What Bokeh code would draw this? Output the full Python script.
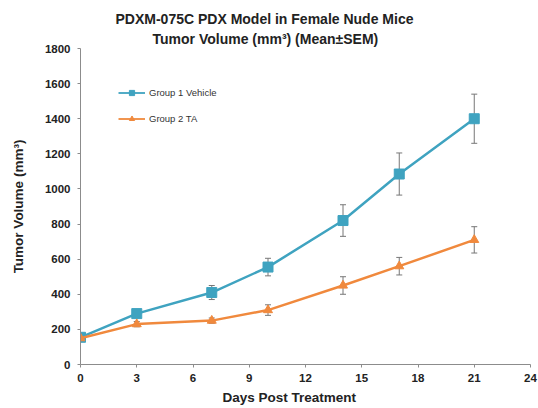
from bokeh.plotting import figure
from bokeh.models import Range1d, Whisker, TeeHead, ColumnDataSource, Legend, LegendItem, Title, FixedTicker
from bokeh.embed import file_html
from bokeh.resources import INLINE

days = [0, 3, 7, 10, 14, 17, 21]
g1_mean = [155, 290, 410, 555, 820, 1085, 1400]
g1_sem = [10, 15, 40, 50, 90, 120, 140]
g2_mean = [150, 230, 250, 310, 450, 560, 710]
g2_sem = [10, 15, 15, 30, 50, 50, 75]
x_ticks = [0, 3, 6, 9, 12, 15, 18, 21, 24]
y_ticks = [0, 200, 400, 600, 800, 1000, 1200, 1400, 1600, 1800]
title1 = "PDXM-075C PDX Model in Female Nude Mice"
title2 = "Tumor Volume (mm³) (Mean±SEM)"
x_label = "Days Post Treatment"
y_label = "Tumor Volume (mm³)"
name1 = "Group 1 Vehicle"
name2 = "Group 2 TA"

BLUE = "#3fa3c0"
ORANGE = "#f0893d"
GRAY = "#8c8c8c"
FONT = "Liberation Sans"

p = figure(width=538, height=408, output_backend="svg", toolbar_location=None,
           x_range=Range1d(0, 24), y_range=Range1d(0, 1800),
           min_border_left=80, min_border_right=8, min_border_top=48, min_border_bottom=44)
p.outline_line_color = None
p.xgrid.visible = False
p.ygrid.visible = False
p.background_fill_color = "white"
p.border_fill_color = "white"

for ax in (p.xaxis[0], p.yaxis[0]):
    ax.axis_line_color = GRAY
    ax.major_tick_line_color = GRAY
    ax.minor_tick_line_color = None
    ax.major_tick_out = 3
    ax.major_tick_in = 0
    ax.major_label_text_font = FONT
    ax.major_label_text_font_style = "bold"
    ax.major_label_text_font_size = "11.5px"
    ax.major_label_text_color = "#222222"

p.xaxis[0].ticker = FixedTicker(ticks=x_ticks)
p.yaxis[0].ticker = FixedTicker(ticks=y_ticks)
p.xaxis[0].major_label_standoff = 6
p.yaxis[0].major_label_standoff = 7
p.yaxis[0].axis_label = y_label
p.yaxis[0].axis_label_text_font = FONT
p.yaxis[0].axis_label_text_font_style = "bold"
p.yaxis[0].axis_label_text_font_size = "13.5px"
p.yaxis[0].axis_label_text_color = "#222222"
p.yaxis[0].axis_label_standoff = 16

s1 = ColumnDataSource(dict(x=days, y=g1_mean,
                           lo=[m - e for m, e in zip(g1_mean, g1_sem)],
                           hi=[m + e for m, e in zip(g1_mean, g1_sem)]))
s2 = ColumnDataSource(dict(x=days, y=g2_mean,
                           lo=[m - e for m, e in zip(g2_mean, g2_sem)],
                           hi=[m + e for m, e in zip(g2_mean, g2_sem)]))

for s in (s1, s2):
    w = Whisker(source=s, base="x", upper="hi", lower="lo", line_color="#777777", line_width=1,
                upper_head=TeeHead(size=6, line_color="#777777", line_width=1),
                lower_head=TeeHead(size=6, line_color="#777777", line_width=1))
    p.add_layout(w)

l1 = p.line("x", "y", source=s1, line_color=BLUE, line_width=2.5)
m1 = p.scatter("x", "y", source=s1, marker="square", size=10, fill_color=BLUE, line_color=BLUE)
l2 = p.line("x", "y", source=s2, line_color=ORANGE, line_width=2.5)
m2 = p.scatter("x", "y", source=s2, marker="triangle", size=9, fill_color=ORANGE, line_color=ORANGE)

# thin legend-only glyphs
ll1 = p.line([0, 1], [0, 0], line_color=BLUE, line_width=1.8, visible=False)
lm1 = p.scatter([0], [0], marker="square", fill_color=BLUE, line_color=BLUE, visible=False)
ll2 = p.line([0, 1], [0, 0], line_color=ORANGE, line_width=1.8, visible=False)
lm2 = p.scatter([0], [0], marker="triangle", fill_color=ORANGE, line_color=ORANGE, visible=False)

legend = Legend(items=[LegendItem(label=name1, renderers=[ll1, lm1]),
                       LegendItem(label=name2, renderers=[ll2, lm2])],
                location=(38, 236))
legend.border_line_color = None
legend.background_fill_alpha = 0
legend.label_text_font = FONT
legend.label_text_font_size = "9.5px"
legend.label_text_color = "#333333"
legend.glyph_width = 27
legend.glyph_height = 13
legend.label_height = 20
legend.spacing = 6
legend.padding = 4
legend.margin = 0
legend.label_standoff = 4
p.add_layout(legend, "center")

t2 = Title(text=title2, align="left", offset=72, text_font=FONT, text_font_style="bold",
           text_font_size="14px", text_color="#222222", standoff=4)
t1 = Title(text=title1, align="left", offset=35, text_font=FONT, text_font_style="bold",
           text_font_size="14px", text_color="#222222", standoff=0)
p.add_layout(t2, "above")
p.add_layout(t1, "above")

tx = Title(text=x_label, align="left", offset=142, text_font=FONT, text_font_style="bold",
           text_font_size="13.5px", text_color="#222222", standoff=6)
p.add_layout(tx, "below")

open("out.html", "w").write(file_html(p, INLINE))
